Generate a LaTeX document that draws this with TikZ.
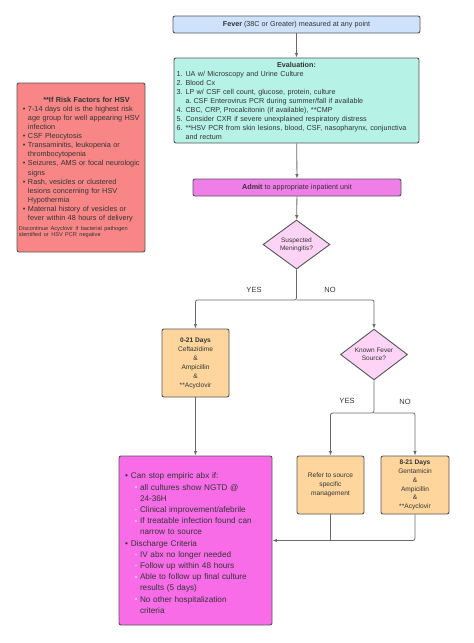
\documentclass[tikz,border=0pt]{standalone}
\usepackage{fontspec}
\setmainfont{Liberation Sans}
\usetikzlibrary{arrows.meta,shapes.geometric}

\definecolor{feverblue}{HTML}{CFE2FB}
\definecolor{evalteal}{HTML}{B6F2E6}
\definecolor{admitpink}{HTML}{F07EE8}
\definecolor{diamondpink}{HTML}{FDD3F6}
\definecolor{drugorange}{HTML}{FDD59D}
\definecolor{discpink}{HTML}{F96CE8}
\definecolor{riskred}{HTML}{F98686}
\definecolor{boxline}{HTML}{555555}
\definecolor{linegray}{HTML}{6A6A6A}
\definecolor{textgray}{HTML}{333333}
\definecolor{subbul}{HTML}{FCB0F2}

\newcommand\evalitem[2]{\par\hangindent=9pt\hangafter=1\noindent\makebox[9pt][l]{#1}#2}
\newcommand\evalsub[2]{\par\hangindent=17pt\hangafter=1\noindent\hspace*{9pt}\makebox[8pt][l]{#1}#2}
\newcommand\riskitem[1]{\par\hangindent=9pt\hangafter=1\noindent\hspace*{4pt}\makebox[5pt][l]{\textbullet}#1}
\newcommand\discitem[1]{\par\hangindent=6pt\hangafter=1\noindent\makebox[6pt][l]{\textbullet}#1}
\newcommand\discsub[1]{\par\hangindent=15pt\hangafter=1\noindent\hspace*{10pt}\makebox[5pt][l]{\textcolor{subbul}{\rule[2pt]{2.4pt}{1.6pt}}}#1}

\tikzset{
   box/.style={draw=boxline,line width=0.9pt,rounded corners=2pt,text=textgray,inner sep=2pt},
   decision/.style={diamond,draw=boxline,line width=0.9pt,fill=diamondpink,text=textgray,
      inner sep=0pt,minimum width=67pt,minimum height=49pt,align=center,
      font=\fontsize{6.5}{8}\selectfont},
   flow/.style={draw=linegray,line width=0.8pt,-{Latex[length=4.5pt,width=3.5pt]},rounded corners=2pt},
   mergeline/.style={draw=linegray,line width=0.8pt,rounded corners=2pt},
   answer/.style={text=textgray,font=\fontsize{7.5}{9}\selectfont}
}

\begin{document}
\begin{tikzpicture}[x=1pt,y=-1pt]
   \useasboundingbox (0,0) rectangle (474,643);

   \node[box,fill=feverblue,minimum width=247pt,minimum height=17pt,font=\fontsize{7.2}{8}\selectfont] (fever) at (296.5,24.5)
      {\textbf{Fever} (38C or Greater) measured at any point};

   \node[box,fill=evalteal,minimum height=85pt,text width=240pt,inner sep=2.5pt,font=\fontsize{7.2}{9}\selectfont] (eval) at (296.5,100.5)
      {\centering\textbf{Evaluation:}\par
       \raggedright
       \evalitem{1.}{UA w/ Microscopy and Urine Culture}
       \evalitem{2.}{Blood Cx}
       \evalitem{3.}{LP w/ CSF cell count, glucose, protein, culture}
       \evalsub{a.}{CSF Enterovirus PCR during summer/fall if available}
       \evalitem{4.}{CBC, CRP, Procalcitonin (if available), **CMP}
       \evalitem{5.}{Consider CXR if severe unexplained respiratory distress}
       \evalitem{6.}{**HSV PCR from skin lesions, blood, CSF, nasopharynx, conjunctiva\newline and rectum}\par};

   \node[box,fill=riskred,minimum height=169pt,text width=124pt,font=\fontsize{7.3}{9.1}\selectfont] (risk) at (81,167.5)
      {{\centering\hspace*{11pt}\textbf{**If Risk Factors for HSV}\par}
       \raggedright
       \riskitem{7-14 days old is the highest risk\newline age group for well appearing HSV\newline infection}
       \riskitem{CSF Pleocytosis}
       \riskitem{Transaminitis, leukopenia or\newline thrombocytopenia}
       \riskitem{Seizures, AMS or focal neurologic\newline signs}
       \riskitem{Rash, vesicles or clustered\newline lesions concerning for HSV\newline Hypothermia}
       \riskitem{Maternal history of vesicles or\newline fever within 48 hours of delivery}\par
       \vspace{4pt}
       {\fontsize{5.6}{6.2}\selectfont\noindent Discontinue Acyclovir if bacterial pathogen\par
        \noindent identified or HSV PCR negative\par}};

   \node[box,fill=admitpink,minimum width=208pt,minimum height=17pt,font=\fontsize{7.2}{8}\selectfont] (admit) at (297,187.5)
      {\textbf{Admit} to appropriate inpatient unit};

   \node[decision] (mening) at (296.5,244.5) {Suspected\\Meningitis?};

   \node[box,fill=drugorange,minimum width=67pt,minimum height=68pt,align=center,font=\fontsize{6.6}{9}\selectfont] (early) at (195.5,363)
      {\textbf{0-21 Days}\\Ceftazidime\\\&\\Ampicillin\\\&\\**Acyclovir};

   \node[decision] (source) at (374,354.5) {Known Fever\\Source?};

   \node[box,fill=drugorange,minimum width=67pt,minimum height=58pt,align=center,font=\fontsize{6.6}{8.8}\selectfont] (refer) at (330.5,485)
      {Refer to source\\specific\\management};

   \node[box,fill=drugorange,minimum width=68pt,minimum height=58pt,align=center,font=\fontsize{6.6}{8.8}\selectfont] (late) at (415,485)
      {\textbf{8-21 Days}\\Gentamicin\\\&\\Ampicillin\\\&\\**Acyclovir};

   \node[box,fill=discpink,minimum height=169pt,text width=141pt,inner sep=6pt,font=\fontsize{8.2}{11.2}\selectfont] (disc) at (195.5,540.5)
      {\raggedright
       \discitem{Can stop empiric abx if:}
       \discsub{all cultures show NGTD @\newline 24-36H}
       \discsub{Clinical improvement/afebrile}
       \discsub{If treatable infection found can\newline narrow to source}
       \discitem{Discharge Criteria}
       \discsub{IV abx no longer needed}
       \discsub{Follow up within 48 hours}
       \discsub{Able to follow up final culture\newline results (5 days)}
       \discsub{No other hospitalization\newline criteria}\par};

   \coordinate (split1) at (296.5,300);
   \coordinate (split2) at (374,413);
   \coordinate (merge) at (330.5,540.5);

   \draw[flow] (fever) -- (eval);
   \draw[flow] (eval) -- (admit);
   \draw[flow] (admit) -- (mening);
   \draw[flow] (mening.south) -- (split1) -| (early.north);
   \draw[flow] (split1) -| (source.north);
   \draw[flow] (source.south) -- (split2) -| (refer.north);
   \draw[flow] (split2) -| (late.north);
   \draw[flow] (early) -- (disc);
   \draw[flow] (late.south) |- (disc.east);
   \draw[mergeline] (refer.south) -- (merge);

   \node[answer] (yes1) at (254,290) {YES};
   \node[answer] (no1) at (330,290) {NO};
   \node[answer] (yes2) at (347,401) {YES};
   \node[answer] (no2) at (405,402) {NO};
\end{tikzpicture}
\end{document}
